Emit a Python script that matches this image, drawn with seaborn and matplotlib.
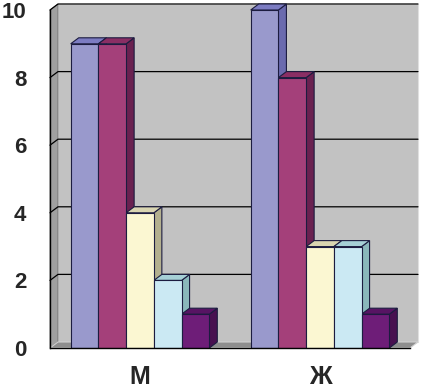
import pandas as pd
import matplotlib
matplotlib.use("Agg")
import matplotlib.pyplot as plt
import seaborn as sns
from matplotlib.patches import Polygon


groups = ["М", "Ж"]
series = ["Ряд 1", "Ряд 2", "Ряд 3", "Ряд 4", "Ряд 5"]
values_m = [9, 9, 4, 2, 1]
values_zh = [10, 8, 3, 3, 1]

front_colors = ["#9999CC", "#A4407A", "#FBF7D2", "#CBE9F3", "#6E1D78"]
top_colors = ["#7C7CC2", "#8A2E64", "#D9D5B1", "#A6D0D6", "#571463"]
side_colors = ["#6A6AAE", "#6A2150", "#B3B08F", "#8AB7BB", "#481050"]

rows = []
for s, vm, vz in zip(series, values_m, values_zh):
    rows.append({"group": groups[0], "series": s, "value": vm})
    rows.append({"group": groups[1], "series": s, "value": vz})
df = pd.DataFrame(rows)

sns.set_style("white")
plt.rcParams['font.family'] = ['Liberation Sans', 'DejaVu Sans']

fig = plt.figure(figsize=(4.21, 3.89), dpi=100)
ax_w, ax_h = 360, 338
ax = fig.add_axes([50/421, 41/389, ax_w/421, ax_h/389])

sns.barplot(data=df, x="group", y="value", hue="series", order=groups,
            hue_order=series, palette=front_colors, saturation=1,
            width=0.77, edgecolor="#1C1C40", linewidth=0.8,
            legend=False, ax=ax, zorder=5)

ax.set_xlim(-0.5, 1.5)
ax.set_ylim(0, 10)
ax.set_facecolor("none")

# depth of the fake 3d effect, in pixels
dpx, dpy = 8, 6
fx, fy = dpx/ax_w, dpy/ax_h          # axes fraction
ddx, ddy = fx*2.0, fy*10.0           # data units

# walls and floor
back = Polygon([(fx, fy), (1+fx, fy), (1+fx, 1+fy), (fx, 1+fy)], closed=True,
               transform=ax.transAxes, facecolor="#C2C2C2", edgecolor="#E0E0E0",
               lw=0.8, zorder=0, clip_on=False)
side = Polygon([(0, 0), (fx, fy), (fx, 1+fy), (0, 1)], closed=True,
               transform=ax.transAxes, facecolor="#A0A0A0", edgecolor="#6A6A6A",
               lw=0.6, zorder=0.5, clip_on=False)
floor = Polygon([(0, 0), (1, 0), (1+fx, fy), (fx, fy)], closed=True,
                transform=ax.transAxes, facecolor="#8E8E8E", edgecolor="#D0D0D0",
                lw=0.8, zorder=0.6, clip_on=False)
for p in (back, side, floor):
    ax.add_patch(p)

# gridlines on the back wall
for yv in [2, 4, 6, 8, 10]:
    yf = yv/10
    ax.plot([0, fx, 1+fx], [yf, yf+fy, yf+fy], color="black", lw=0.9,
            transform=ax.transAxes, zorder=1, clip_on=False)

# top and side faces of every bar
for i, cont in enumerate(ax.containers):
    for bar in cont:
        x0 = bar.get_x()
        w = bar.get_width()
        h = bar.get_height()
        x1 = x0 + w
        top = Polygon([(x0, h), (x1, h), (x1+ddx, h+ddy), (x0+ddx, h+ddy)],
                      closed=True, facecolor=top_colors[i], edgecolor="#1C1C40",
                      lw=0.8, zorder=4, clip_on=False)
        sd = Polygon([(x1, 0), (x1+ddx, ddy), (x1+ddx, h+ddy), (x1, h)],
                     closed=True, facecolor=side_colors[i], edgecolor="#1C1C40",
                     lw=0.8, zorder=3, clip_on=False)
        ax.add_patch(top)
        ax.add_patch(sd)

for s in ["top", "right"]:
    ax.spines[s].set_visible(False)
for s in ["left", "bottom"]:
    ax.spines[s].set_color("black")
    ax.spines[s].set_linewidth(1.0)
    ax.spines[s].set_zorder(6)

ax.set_yticks([0, 2, 4, 6, 8, 10])
ax.tick_params(axis="y", direction="out", length=6, width=0.9, color="black",
               pad=11, labelsize=16)
ax.set_xticks([0, 1])
ax.set_xticklabels(groups)
ax.set_xticks([-0.5, 0.5, 1.5], minor=True)
ax.tick_params(axis="x", which="major", length=0, pad=12, labelsize=18)
ax.tick_params(axis="x", which="minor", direction="out", length=5, width=0.9,
               color="black")
for lbl in ax.get_xticklabels() + ax.get_yticklabels():
    lbl.set_fontweight("bold")

ax.set_xlabel("")
ax.set_ylabel("")

fig.savefig("out.png", dpi=100)
